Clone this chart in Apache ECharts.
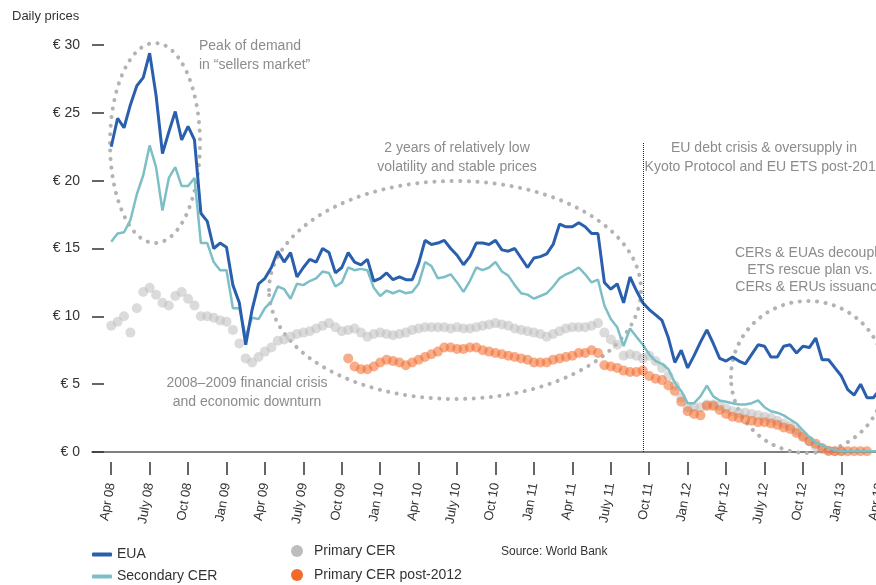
<!DOCTYPE html>
<html>
<head>
<meta charset="utf-8">
<title>Daily prices</title>
<script src="https://cdn.jsdelivr.net/npm/echarts@6/dist/echarts.min.js"></script>
<style>
  html, body { margin: 0; padding: 0; background: #fff; }
  #chart { width: 876px; height: 585px; }
</style>
</head>
<body>
<div id="chart"></div>
<script>
// x is counted in months from April 2008, one reading every half month
var STEP = 0.5
var tickMonths = [0, 3, 6, 9, 12, 15, 18, 21, 24, 27, 30, 33, 36, 39, 42, 45, 48, 51, 54, 57, 60]
var tickLabels = ['Apr 08', 'July 08', 'Oct 08', 'Jan 09', 'Apr 09', 'July 09', 'Oct 09', 'Jan 10',
  'Apr 10', 'July 10', 'Oct 10', 'Jan 11', 'Apr 11', 'July 11', 'Oct 11', 'Jan 12', 'Apr 12',
  'July 12', 'Oct 12', 'Jan 13', 'Apr 13']

var euaStart = 0
var euaPrices = [
  22.5, 24.6, 23.9, 25.6, 27.0, 27.6, 29.4, 26.3, 22.0, 23.6,
  25.1, 23.0, 24.0, 23.0, 17.6, 17.0, 15.0, 15.4, 15.1, 12.3,
  11.0, 7.9, 10.5, 12.4, 12.8, 13.6, 14.8, 14.0, 14.7, 12.9,
  13.6, 14.2, 14.0, 15.0, 14.7, 13.2, 13.6, 14.7, 14.0, 13.8,
  14.2, 12.6, 12.8, 13.2, 12.7, 12.9, 12.7, 12.7, 13.9, 15.6,
  15.3, 15.4, 15.6, 15.0, 14.5, 13.8, 14.4, 15.4, 15.4, 15.3,
  15.6, 14.9, 14.8, 15.0, 14.3, 13.6, 14.3, 14.4, 14.6, 15.3,
  16.8, 16.6, 16.6, 16.9, 16.6, 16.1, 16.1, 12.5, 12.0, 12.4,
  11.0, 12.9, 11.9, 11.0, 10.5, 10.1, 9.7, 8.4, 6.6, 7.5,
  6.2, 7.1, 8.1, 9.0, 8.0, 6.9, 6.7, 7.0, 6.7, 6.5,
  7.2, 7.9, 7.8, 7.0, 7.0, 7.8, 7.9, 7.3, 7.8, 7.7,
  8.4, 6.8, 6.8, 6.2, 5.6, 4.6, 4.2, 5.0, 4.0, 4.0,
  4.6
]

var secondaryStart = 0
var secondaryCer = [
  15.5, 16.1, 16.2, 17.1, 19.0, 20.4, 22.6, 21.0, 17.8, 20.2,
  21.0, 19.6, 19.6, 20.2, 15.4, 15.4, 14.0, 13.4, 13.4, 10.6,
  10.6, 8.5, 9.9, 9.8, 10.6, 11.1, 12.2, 12.0, 11.3, 12.4,
  12.3, 12.6, 12.8, 13.3, 13.2, 12.2, 12.5, 13.6, 13.4, 13.5,
  13.4, 12.1, 11.5, 11.9, 11.7, 11.9, 11.7, 11.8, 12.4, 14.0,
  13.7, 12.8, 12.9, 13.1, 12.5, 11.8, 12.6, 13.6, 13.4, 13.6,
  14.0, 13.3, 13.0, 12.3, 11.7, 11.6, 11.3, 11.5, 11.7, 12.2,
  12.8, 13.1, 13.3, 13.6, 13.1, 12.5, 12.7, 10.8, 9.8, 9.2,
  7.8, 9.1, 8.5, 7.9, 7.2, 6.7, 6.5, 6.1, 5.1, 4.5,
  3.6, 3.6, 4.1, 4.9, 4.1, 3.8, 3.7, 3.6, 3.5, 3.5,
  3.6, 3.8, 3.3, 3.0, 2.9, 2.7, 2.4, 2.1, 1.6, 1.1,
  0.7, 0.5, 0.3, 0.15, 0.05, 0.05, 0.05, 0.05, 0.05, 0.05,
  0.05
]

var primaryStart = 0
var primaryCer = [
  9.3, 9.6, 10.0, 8.8, 10.6, 11.8, 12.1, 11.6, 11.0, 10.8,
  11.5, 11.8, 11.3, 10.8, 10.0, 10.0, 9.9, 9.7, 9.6, 9.0,
  8.0, 6.9, 6.6, 7.0, 7.4, 7.7, 8.2, 8.3, 8.5, 8.7,
  8.8, 8.9, 9.1, 9.3, 9.5, 9.2, 8.9, 9.0, 9.1, 8.8,
  8.5, 8.7, 8.8, 8.7, 8.6, 8.7, 8.8, 9.0, 9.1, 9.2,
  9.2, 9.2, 9.2, 9.1, 9.2, 9.1, 9.1, 9.2, 9.3, 9.4,
  9.5, 9.4, 9.3, 9.1, 9.0, 8.9, 8.8, 8.7, 8.5, 8.7,
  8.9, 9.1, 9.2, 9.2, 9.2, 9.3, 9.5, 8.8, 8.3, 7.9,
  7.1, 7.2, 7.1, 6.9, 7.1, 6.7, 6.2, 5.6, 4.9, 4.0,
  3.3, 3.3, 3.3, 3.5, 3.5, 3.4, 3.2, 3.0, 2.9, 2.9,
  2.8, 2.7, 2.6, 2.5, 2.3, 2.1, 1.9, 1.6, 1.2, 0.8,
  0.4, 0.2, 0.05, 0.05, 0.05
]

var postStart = 18.5
var primaryPost2012 = [
  6.9, 6.3, 6.1,
  6.1, 6.3, 6.6, 6.8, 6.7, 6.6, 6.4, 6.6, 6.8, 7.0,
  7.2, 7.4, 7.7, 7.7, 7.6, 7.6, 7.7, 7.7, 7.5, 7.4,
  7.3, 7.2, 7.1, 7.0, 6.9, 6.8, 6.6, 6.6, 6.6, 6.8,
  6.9, 7.0, 7.1, 7.3, 7.3, 7.5, 7.3, 6.4, 6.3, 6.2,
  6.0, 5.9, 5.9, 6.0, 5.6, 5.4, 5.3, 4.9, 4.5, 3.7,
  3.0, 2.8, 2.7, 3.4, 3.4, 3.1, 2.8, 2.6, 2.5, 2.4,
  2.3, 2.2, 2.2, 2.1, 2.0, 1.8, 1.7, 1.4, 1.1, 0.8,
  0.6, 0.3, 0.1, 0.05, 0.05, 0.05, 0.05, 0.05, 0.05
]

// dotted divider (EU debt crisis)
var dividerMonth = 41.5
var dividerTop = 22.8

function toPoints(values, start) {
  return values.map(function (v, i) { return [start + i * STEP, v] })
}

var font = '"Liberation Sans", Arial, Helvetica, sans-serif'
var noteColor = '#8c8c8c'
var dotted = { stroke: '#b3b3b3', fill: 'none', lineWidth: 4, lineDash: [0.1, 8.5], lineCap: 'round' }

function note(text, x, y, align, lineHeight) {
  return {
    type: 'text', x: x, y: y, z: 5, silent: true,
    style: {
      text: text, fill: noteColor, font: '14px ' + font,
      align: align, verticalAlign: 'top', lineHeight: lineHeight
    }
  }
}

var chart = echarts.init(document.getElementById('chart'))
chart.setOption({
  animation: false,
  textStyle: { fontFamily: font },
  // the plot runs on past the right edge so that the Apr 13 tick is cut off
  grid: { left: 92, width: 807, top: 45, height: 407, outerBoundsMode: 'none', containLabel: false },
  xAxis: [
    {
      type: 'value', min: -1.5, max: 61.5, position: 'bottom',
      axisLine: { show: true, lineStyle: { color: '#555', width: 1.5 } },
      axisTick: { show: false },
      axisLabel: { show: false },
      splitLine: { show: false }
    },
    {
      type: 'value', min: -1.5, max: 61.5, position: 'bottom', offset: 10,
      axisLine: { show: false },
      axisTick: { show: true, customValues: tickMonths, length: 13, lineStyle: { color: '#333', width: 1.5 } },
      axisLabel: {
        show: true, customValues: tickMonths, rotate: 80, margin: 21,
        color: '#333', fontSize: 13,
        formatter: function (v) { return tickLabels[tickMonths.indexOf(Math.round(v))] }
      },
      splitLine: { show: false }
    }
  ],
  yAxis: {
    type: 'value', min: 0, max: 30, interval: 5,
    axisLine: { show: false, onZero: false },
    axisTick: { show: true, inside: true, length: 12, lineStyle: { color: '#333', width: 1.5 } },
    axisLabel: { margin: 12, color: '#333', fontSize: 14, formatter: function (v) { return '€ ' + v } },
    splitLine: { show: false }
  },
  legend: [
    {
      left: 92, top: 547, orient: 'vertical', padding: 0, itemGap: 7,
      itemWidth: 20, itemHeight: 4, icon: 'roundRect',
      textStyle: { color: '#333', fontSize: 14, lineHeight: 15 },
      data: ['EUA', 'Secondary CER']
    },
    {
      left: 291, top: 543, orient: 'vertical', padding: 0, itemGap: 8,
      itemWidth: 24, itemHeight: 12, icon: 'circle',
      itemStyle: { opacity: 1 },
      textStyle: { color: '#333', fontSize: 14, lineHeight: 16 },
      data: ['Primary CER', 'Primary CER post-2012']
    }
  ],
  graphic: [
    { type: 'ellipse', z: 1, silent: true, shape: { cx: 155, cy: 143, rx: 45, ry: 100 }, style: dotted },
    { type: 'ellipse', z: 1, silent: true, shape: { cx: 455, cy: 290, rx: 186, ry: 109 }, style: dotted },
    { type: 'ellipse', z: 1, silent: true, shape: { cx: 808, cy: 377, rx: 77, ry: 76 }, style: dotted },
    {
      type: 'text', x: 12, y: 10, silent: true,
      style: { text: 'Daily prices', fill: '#333', font: '13px ' + font }
    },
    {
      type: 'text', x: 501, y: 546, silent: true,
      style: { text: 'Source: World Bank', fill: '#333', font: '12px ' + font }
    },
    note('Peak of demand\nin “sellers market”', 199, 36.5, 'left', 19),
    note('2 years of relatively low\nvolatility and stable prices', 457, 138.5, 'center', 19),
    note('EU debt crisis & oversupply in\nKyoto Protocol and EU ETS post-2012', 764, 138.5, 'center', 19),
    note('CERs & EUAs decouple\nETS rescue plan vs.\nCERs & ERUs issuance', 810, 244.5, 'center', 17),
    note('2008–2009 financial crisis\nand economic downturn', 247, 374, 'center', 18.5)
  ],
  series: [
    {
      name: 'Primary CER', type: 'scatter', symbolSize: 10,
      itemStyle: { color: '#bdbdbd', opacity: 0.55 },
      emphasis: { disabled: true },
      data: toPoints(primaryCer, primaryStart)
    },
    {
      name: 'Primary CER post-2012', type: 'scatter', symbolSize: 10,
      itemStyle: { color: '#f26a2a', opacity: 0.55 },
      emphasis: { disabled: true },
      data: toPoints(primaryPost2012, postStart)
    },
    {
      name: 'Secondary CER', type: 'line', showSymbol: false,
      color: '#7dbfc6',
      lineStyle: { color: '#7dbfc6', width: 2.5 },
      emphasis: { disabled: true },
      data: toPoints(secondaryCer, secondaryStart)
    },
    {
      name: 'EUA', type: 'line', showSymbol: false,
      color: '#2a5fae',
      lineStyle: { color: '#2a5fae', width: 3 },
      emphasis: { disabled: true },
      data: toPoints(euaPrices, euaStart),
      markLine: {
        silent: true, symbol: 'none', label: { show: false },
        lineStyle: { color: '#222', type: 'dotted', width: 1 },
        data: [[{ coord: [dividerMonth, 0] }, { coord: [dividerMonth, dividerTop] }]]
      }
    }
  ]
})
</script>
</body>
</html>
